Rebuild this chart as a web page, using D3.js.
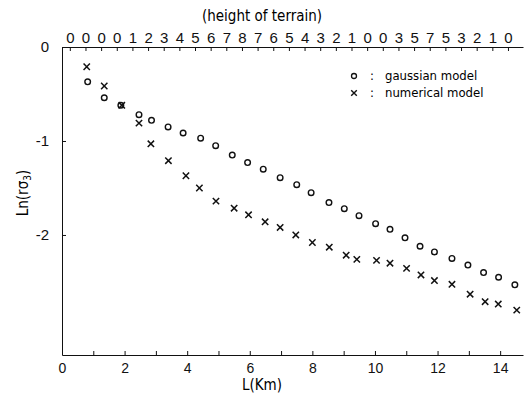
<!DOCTYPE html>
<html>
<head>
<meta charset="utf-8">
<script src="https://cdn.jsdelivr.net/npm/d3@7"></script>
<style>
  body { margin: 0; background: #fff; }
  svg { font-family: "DejaVu Sans Condensed", "Liberation Sans Narrow", sans-serif; }
  .axis path, .axis line { stroke: #111; }
  .axis text { fill: #111; }
</style>
</head>
<body>
<svg></svg>
<script>
(() => {
    // gaussian model (circles)
    const gaussX = [0.82, 1.35, 1.88, 2.46, 2.86, 3.39, 3.87, 4.43, 4.91, 5.44, 5.93, 6.43, 6.97, 7.5,
        7.96, 8.53, 9.02, 9.49, 10.02, 10.48, 10.96, 11.44, 11.9, 12.46, 12.97, 13.47, 13.95, 14.47];
    const gaussY = [-0.37, -0.54, -0.62, -0.72, -0.78, -0.85, -0.915, -0.97, -1.05, -1.15, -1.23, -1.3, -1.39, -1.465,
        -1.55, -1.655, -1.72, -1.795, -1.88, -1.94, -2.03, -2.12, -2.18, -2.25, -2.32, -2.4, -2.45, -2.53];
    // numerical model (crosses)
    const numX = [0.79, 1.35, 1.91, 2.46, 2.84, 3.4, 3.96, 4.39, 4.92, 5.5, 5.96, 6.49, 6.97, 7.47,
        8.0, 8.54, 9.08, 9.42, 10.05, 10.48, 11.01, 11.47, 11.9, 12.46, 13.04, 13.52, 13.94, 14.53];
    const numY = [-0.21, -0.415, -0.62, -0.81, -1.03, -1.21, -1.37, -1.5, -1.64, -1.715, -1.785, -1.86, -1.92, -2.0,
        -2.08, -2.13, -2.215, -2.26, -2.27, -2.3, -2.355, -2.425, -2.485, -2.525, -2.63, -2.71, -2.735, -2.8];
    // height of terrain labels along the top, every 0.5 km
    const terrain = [0, 0, 0, 0, 1, 2, 3, 4, 5, 6, 7, 8, 7, 6, 5, 4, 3, 2, 1, 0, 0, 3, 5, 7, 5, 3, 2, 1, 0];
    const xTicks = [0, 2, 4, 6, 8, 10, 12, 14];
    const yTicks = [0, -1, -2];

    const width = 526;
    const height = 404;
    const margin = { top: 47, right: 3, bottom: 49, left: 62 };

    const xScale = d3.scaleLinear()
        .domain([0, 14.73])
        .range([margin.left, width - margin.right]);

    const yScale = d3.scaleLinear()
        .domain([0, -3.277])
        .range([margin.top, height - margin.bottom]);

    const svg = d3.select("svg")
        .attr("width", width)
        .attr("height", height);

    // bottom axis
    const bottom = svg.append("g")
        .attr("class", "axis")
        .attr("transform", `translate(0, ${height - margin.bottom})`)
        .call(d3.axisBottom(xScale)
            .tickValues(d3.range(0, 15))
            .tickSize(-4)
            .tickSizeOuter(0)
            .tickFormat(d => xTicks.includes(d) ? d : ""));
    bottom.selectAll("text").attr("dy", "1.1em").style("font-size", "14px");

    // top axis with terrain heights
    const top = svg.append("g")
        .attr("class", "axis")
        .attr("transform", `translate(0, ${margin.top})`)
        .call(d3.axisTop(xScale)
            .tickValues(terrain.map((d, i) => 0.25 + 0.5 * i))
            .tickSize(-4)
            .tickSizeOuter(0)
            .tickFormat((d, i) => terrain[i]));
    top.selectAll("text").attr("dy", "-0.1em").style("font-size", "15px");

    // left axis
    const left = svg.append("g")
        .attr("class", "axis")
        .attr("transform", `translate(${margin.left}, 0)`)
        .call(d3.axisLeft(yScale)
            .tickValues(yTicks)
            .tickSize(-4)
            .tickSizeOuter(0)
            .tickFormat(d => d));
    left.selectAll("text").attr("x", -13).style("font-size", "15px");

    // titles
    svg.append("text")
        .attr("x", 262)
        .attr("y", 21)
        .attr("text-anchor", "middle")
        .style("font-size", "15px")
        .text("(height of terrain)");

    svg.append("text")
        .attr("x", 262)
        .attr("y", 390)
        .attr("text-anchor", "middle")
        .style("font-size", "15px")
        .text("L(Km)");

    const ylab = svg.append("text")
        .attr("transform", "translate(28, 193) rotate(-90)")
        .attr("text-anchor", "middle")
        .style("font-size", "15px");
    ylab.append("tspan").text("Ln(rσ");
    ylab.append("tspan").attr("dy", 3).style("font-size", "10px").text("3");
    ylab.append("tspan").attr("dy", -3).text(")");

    // points
    const gauss = gaussX.map((x, i) => ({ x, y: gaussY[i] }));
    const num = numX.map((x, i) => ({ x, y: numY[i] }));

    svg.append("g").selectAll("circle")
        .data(gauss)
        .enter()
        .append("circle")
        .attr("cx", d => xScale(d.x))
        .attr("cy", d => yScale(d.y))
        .attr("r", 2.8)
        .attr("fill", "none")
        .attr("stroke", "#111")
        .attr("stroke-width", 1.4);

    const cross = d3.symbol().type(d3.symbolX).size(28);
    svg.append("g").selectAll("path")
        .data(num)
        .enter()
        .append("path")
        .attr("transform", d => `translate(${xScale(d.x)}, ${yScale(d.y)})`)
        .attr("d", cross)
        .attr("fill", "none")
        .attr("stroke", "#111")
        .attr("stroke-width", 1.5);

    // legend
    const legend = svg.append("g").style("font-size", "13px");
    legend.append("circle")
        .attr("cx", 354).attr("cy", 76).attr("r", 2.5)
        .attr("fill", "none").attr("stroke", "#111").attr("stroke-width", 1.3);
    legend.append("text").attr("x", 370).attr("y", 80).text(":");
    legend.append("text").attr("x", 385).attr("y", 80).text("gaussian model");
    legend.append("path")
        .attr("transform", "translate(354, 93)")
        .attr("d", d3.symbol().type(d3.symbolX).size(22))
        .attr("fill", "none").attr("stroke", "#111").attr("stroke-width", 1.4);
    legend.append("text").attr("x", 370).attr("y", 97).text(":");
    legend.append("text").attr("x", 385).attr("y", 97).text("numerical model");
})();
</script>
</body>
</html>
